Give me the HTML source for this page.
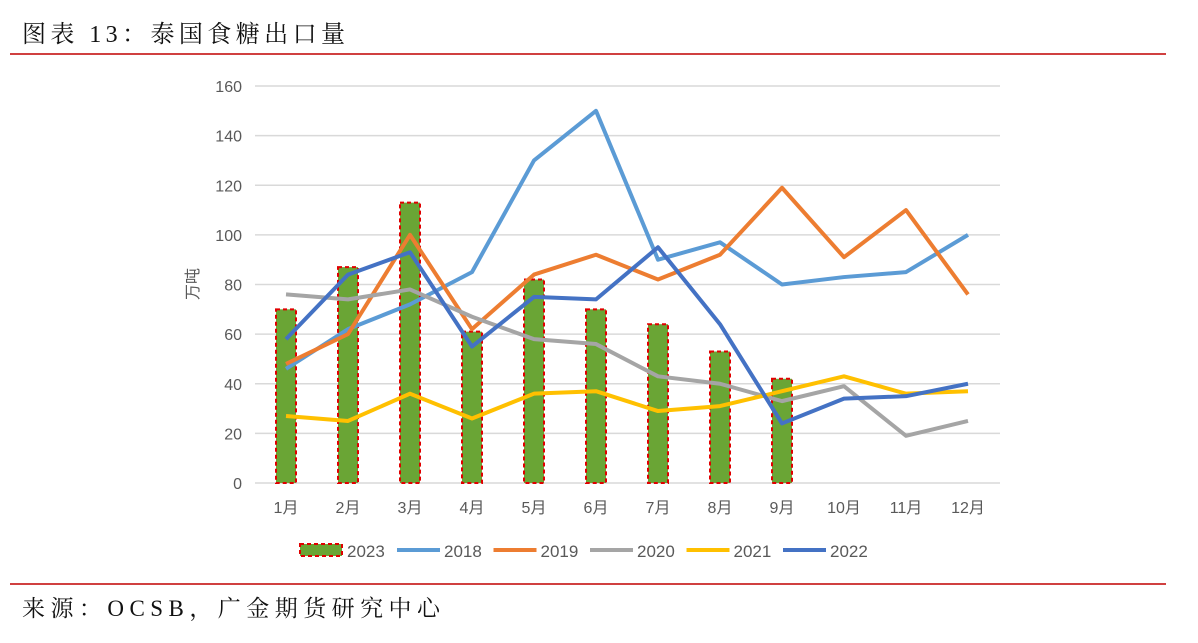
<!DOCTYPE html>
<html><head><meta charset="utf-8"><style>
body{margin:0;width:1198px;height:638px;background:#fff;overflow:hidden;font-family:"Liberation Sans","Noto Sans CJK SC",sans-serif}
</style></head><body>
<svg id="s" width="1198" height="638" xmlns="http://www.w3.org/2000/svg"></svg>
<script>
const s=document.getElementById('s');let h='';
h+='<text x="22" y="42" textLength="323" lengthAdjust="spacing" font-family="Liberation Serif,Noto Serif CJK SC,serif" font-size="24" fill="#111">图表 13：泰国食糖出口量</text>';
h+='<line x1="10" y1="54" x2="1166" y2="54" stroke="#c00000" stroke-width="1.5"/>';
h+='<line x1="10" y1="584" x2="1166" y2="584" stroke="#c00000" stroke-width="1.5"/>';
h+='<text x="22" y="616" textLength="418" lengthAdjust="spacing" font-family="Liberation Serif,Noto Serif CJK SC,serif" font-size="23" fill="#111">来源：OCSB，广金期货研究中心</text>';
const Y=v=>483-v*2.48125, X=i=>286+i*62;
for(let v=0;v<=160;v+=20){const y=Y(v);h+=`<line x1="255" x2="1000" y1="${y}" y2="${y}" stroke="#d9d9d9" stroke-width="1.5"/><text x="242" y="${y+6}" text-anchor="end" font-size="16" fill="#595959">${v}</text>`;}
h+=`<text transform="translate(198,284) rotate(-90)" text-anchor="middle" font-size="16" fill="#595959">万吨</text>`;
for(let i=0;i<12;i++)h+=`<text x="${X(i)}" y="513" text-anchor="middle" font-size="16" fill="#595959">${i+1}月</text>`;
const bars=[70,87,113,61,82,70,64,53,42];
bars.forEach((v,i)=>{const y=Y(v);h+=`<rect x="${X(i)-10}" y="${y}" width="20" height="${483-y}" fill="#6aa535" stroke="#e00000" stroke-width="2" stroke-dasharray="4,3"/>`;});
const ser=[["#5b9bd5",[46,62,72,85,130,150,90,97,80,83,85,100]],["#ed7d31",[48,60,100,62,84,92,82,92,119,91,110,76]],["#a5a5a5",[76,74,78,67,58,56,43,40,33,39,19,25]],["#ffc000",[27,25,36,26,36,37,29,31,37,43,36,37]],["#4472c4",[58,84,93,55,75,74,95,64,24,34,35,40]]];
ser.forEach(([c,d])=>{h+=`<polyline fill="none" stroke="${c}" stroke-width="4" stroke-linejoin="round" points="${d.map((v,i)=>X(i)+','+Y(v)).join(' ')}"/>`;});
h+=`<rect x="300" y="544" width="42" height="12" fill="#6aa535" stroke="#e00000" stroke-width="2" stroke-dasharray="4,3"/><text x="347" y="557" font-size="17" fill="#595959">2023</text>`;
const names=["2018","2019","2020","2021","2022"];
names.forEach((n,i)=>{const x=397+i*96.5;h+=`<line x1="${x}" x2="${x+43}" y1="550" y2="550" stroke="${ser[i][0]}" stroke-width="4"/><text x="${x+47}" y="557" font-size="17" fill="#595959">${n}</text>`;});
s.innerHTML=h;
</script>
</body></html>
